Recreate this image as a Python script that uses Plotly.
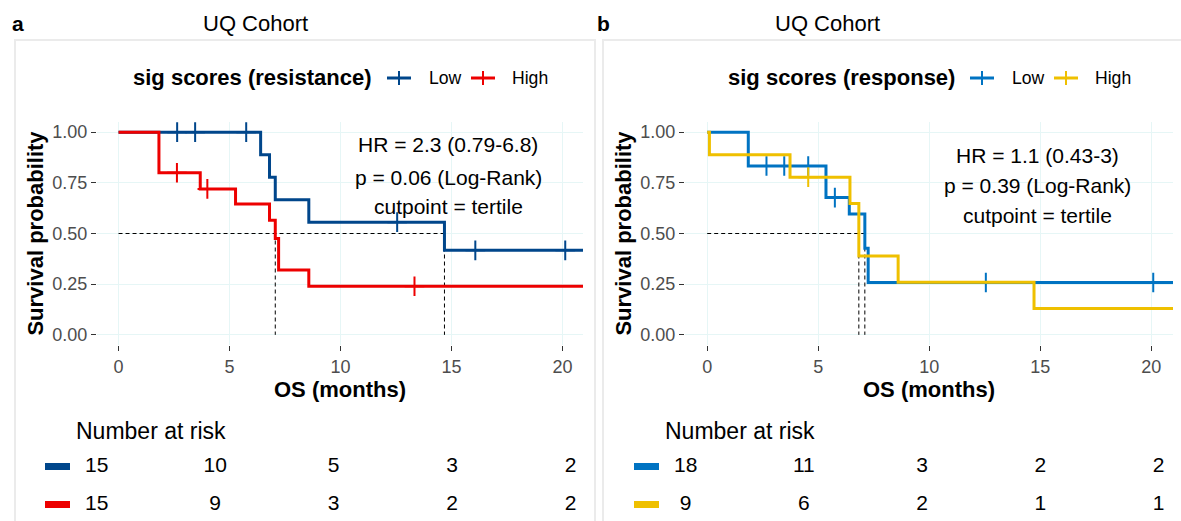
import numpy as np
import plotly.graph_objects as go

W, H = 1181, 521
FONT = "Liberation Sans, Arial, sans-serif"

# ---------------- data ----------------
# Panel a (resistance signature)
a_low_t = [0, 6.40, 6.80, 7.06, 8.57, 14.68, 21.0]
a_low_s = [1.0, 0.889, 0.778, 0.667, 0.556, 0.417, 0.417]
a_low_cens = [2.64, 3.45, 5.75, 12.55, 16.07, 20.12]
a_high_t = [0, 1.82, 3.68, 5.27, 6.80, 7.06, 7.21, 8.57, 21.0]
a_high_s = [1.0, 0.80, 0.72, 0.645, 0.565, 0.475, 0.32, 0.24, 0.24]
a_high_cens = [2.63, 4.00, 13.33]

# Panel b (response signature)
b_low_t = [0, 1.85, 5.35, 6.40, 7.10, 7.25, 21.0]
b_low_s = [1.0, 0.833, 0.677, 0.596, 0.427, 0.258, 0.258]
b_low_cens = [2.67, 3.47, 4.55, 5.75, 12.55, 20.09]
b_high_t = [0, 0.10, 3.73, 6.43, 6.83, 8.60, 14.72, 21.0]
b_high_s = [1.0, 0.889, 0.778, 0.648, 0.389, 0.259, 0.130, 0.130]
b_high_cens = [4.55]

risk_times = [0, 5, 10, 15, 20]
a_risk_low = [15, 10, 5, 3, 2]
a_risk_high = [15, 9, 3, 2, 2]
b_risk_low = [18, 11, 3, 2, 2]
b_risk_high = [9, 6, 2, 1, 1]

x_ticks = [0, 5, 10, 15, 20]
y_ticks = [0, 0.25, 0.5, 0.75, 1.0]
y_ticklabels = ["0.00", "0.25", "0.50", "0.75", "1.00"]

a_stats = ["HR = 2.3 (0.79-6.8)", "p = 0.06 (Log-Rank)", "cutpoint = tertile"]
b_stats = ["HR = 1.1 (0.43-3)", "p = 0.39 (Log-Rank)", "cutpoint = tertile"]

C_A_LOW, C_A_HIGH = "#00468B", "#ED0000"
C_B_LOW, C_B_HIGH = "#0073C2", "#EFC000"


def px(x):
    return x / W


def py(y):
    return 1 - y / H


def step_at(t, s, q):
    t = np.asarray(t); s = np.asarray(s)
    idx = np.searchsorted(t, q, side="right") - 1
    return s[idx]


def median(t, s):
    for ti, si in zip(t, s):
        if si <= 0.5:
            return ti
    return None


fig = go.Figure()


def add_panel(xa, ya, low, high, cols):
    (lt, ls, lc), (ht, hs, hc) = low, high
    meds = [m for m in (median(lt, ls), median(ht, hs)) if m is not None]
    # median lines
    fig.add_trace(go.Scatter(x=[0, max(meds)], y=[0.5, 0.5], mode="lines",
                             line=dict(color="black", width=1, dash="4px,3px"),
                             xaxis=xa, yaxis=ya, showlegend=False, hoverinfo="skip"))
    for m in meds:
        fig.add_trace(go.Scatter(x=[m, m], y=[0.5, 0], mode="lines",
                                 line=dict(color="black", width=1, dash="4px,3px"),
                                 xaxis=xa, yaxis=ya, showlegend=False, hoverinfo="skip"))
    for (t, s, c), col in zip(((lt, ls, lc), (ht, hs, hc)), cols):
        fig.add_trace(go.Scatter(x=t, y=s, mode="lines", line=dict(color=col, width=3, shape="hv"),
                                 xaxis=xa, yaxis=ya, showlegend=False))
        fig.add_trace(go.Scatter(x=c, y=step_at(t, s, c), mode="markers",
                                 marker=dict(symbol="cross-thin", size=14, line=dict(color=col, width=2)),
                                 xaxis=xa, yaxis=ya, showlegend=False))


add_panel("x", "y", (a_low_t, a_low_s, a_low_cens), (a_high_t, a_high_s, a_high_cens), (C_A_LOW, C_A_HIGH))
add_panel("x2", "y2", (b_low_t, b_low_s, b_low_cens), (b_high_t, b_high_s, b_high_cens), (C_B_LOW, C_B_HIGH))

# risk tables as text traces
for xa, ya, rl, rh in (("x3", "y3", a_risk_low, a_risk_high), ("x4", "y4", b_risk_low, b_risk_high)):
    fig.add_trace(go.Scatter(x=risk_times + risk_times, y=[1] * len(rl) + [0] * len(rh),
                             mode="text", text=[str(v) for v in rl + rh],
                             textfont=dict(family=FONT, size=21, color="black"),
                             textposition="middle center",
                             xaxis=xa, yaxis=ya, showlegend=False, hoverinfo="skip"))

GRID = "#E6F6F6"
common_x = dict(tickvals=x_ticks, ticks="outside", ticklen=5, tickcolor="#333333", showline=False,
                gridcolor=GRID, gridwidth=1, zeroline=False,
                tickfont=dict(family=FONT, size=18, color="#4D4D4D"),
                title=dict(text="<b>OS (months)</b>", font=dict(family=FONT, size=22, color="black"), standoff=0))
common_y = dict(tickvals=y_ticks, ticktext=y_ticklabels, ticks="outside", ticklen=5, tickcolor="#333333",
                showline=False, gridcolor=GRID, gridwidth=1, zeroline=False, range=[-0.05, 1.05],
                tickfont=dict(family=FONT, size=18, color="#4D4D4D"),
                title=dict(text="<b>Survival probability</b>", font=dict(family=FONT, size=22, color="black"), standoff=2))

ydom = [py(345), py(122)]
fig.update_layout(
    xaxis=dict(domain=[px(97), px(583)], range=[-0.97, 20.92], anchor="y", **common_x),
    yaxis=dict(domain=ydom, anchor="x", **common_y),
    xaxis2=dict(domain=[px(685), px(1173)], range=[-1.0, 20.98], anchor="y2", **common_x),
    yaxis2=dict(domain=ydom, anchor="x2", **common_y),
    xaxis3=dict(domain=[px(73), px(592)], range=[-1.0, 20.9], anchor="y3", visible=False),
    yaxis3=dict(domain=[py(520), py(450)], range=[-0.408, 1.434], anchor="x3", visible=False),
    xaxis4=dict(domain=[px(662), px(1180)], range=[-1.0, 20.9], anchor="y4", visible=False),
    yaxis4=dict(domain=[py(520), py(450)], range=[-0.408, 1.434], anchor="x4", visible=False),
)

shapes = []
ann = []
# panel frames
for x0, x1 in ((15, 595), (603, 1195)):
    shapes.append(dict(type="rect", xref="paper", yref="paper", x0=px(x0), x1=px(x1), y0=py(560), y1=py(40),
                       line=dict(color="#EBEBEB", width=2), layer="below"))


def legend(title_right, title, keys):
    ann.append(dict(text="<b>%s</b>" % title, x=px(title_right), y=py(78), xref="paper", yref="paper",
                    xanchor="right", yanchor="middle", showarrow=False, font=dict(family=FONT, size=22, color="black")))
    for kx, tx, col, lab in keys:
        shapes.append(dict(type="line", xref="paper", yref="paper", x0=px(kx), x1=px(kx + 24), y0=py(78), y1=py(78),
                           line=dict(color=col, width=3)))
        shapes.append(dict(type="line", xref="paper", yref="paper", x0=px(kx + 12), x1=px(kx + 12), y0=py(71), y1=py(85),
                           line=dict(color=col, width=2)))
        ann.append(dict(text=lab, x=px(tx), y=py(78), xref="paper", yref="paper", xanchor="left", yanchor="middle",
                        showarrow=False, font=dict(family=FONT, size=17.6, color="black")))


legend(373, "sig scores (resistance)", [(387, 427, C_A_LOW, "Low"), (471, 510, C_A_HIGH, "High")])
legend(957, "sig scores (response)", [(970, 1010, C_B_LOW, "Low"), (1054, 1093, C_B_HIGH, "High")])

# panel letters and titles
for lx, tx, letter in ((17.5, 255, "a"), (603, 827, "b")):
    ann.append(dict(text="<b>%s</b>" % letter, x=px(lx), y=py(23), xref="paper", yref="paper", xanchor="center",
                    yanchor="middle", showarrow=False, font=dict(family=FONT, size=21, color="black")))
    ann.append(dict(text="UQ Cohort", x=px(tx), y=py(23), xref="paper", yref="paper", xanchor="center",
                    yanchor="middle", showarrow=False, font=dict(family=FONT, size=22, color="black")))

# stats text
for cx, ys, lines in ((448, (145, 177, 206), a_stats), (1037, (155, 186, 216), b_stats)):
    for yy, line in zip(ys, lines):
        ann.append(dict(text=line, x=px(cx), y=py(yy), xref="paper", yref="paper", xanchor="center",
                        yanchor="middle", showarrow=False, font=dict(family=FONT, size=21, color="black")))

# risk table titles and color keys
for lx, kx, cl, ch in ((74, 45, C_A_LOW, C_A_HIGH), (663, 634, C_B_LOW, C_B_HIGH)):
    ann.append(dict(text="Number at risk", x=px(lx), y=py(431), xref="paper", yref="paper", xanchor="left",
                    yanchor="middle", showarrow=False, font=dict(family=FONT, size=23, color="black")))
    for yy, col in ((466.5, cl), (504.5, ch)):
        shapes.append(dict(type="rect", xref="paper", yref="paper", x0=px(kx), x1=px(kx + 25),
                           y0=py(yy + 3.5), y1=py(yy - 3.5), line=dict(width=0), fillcolor=col))

fig.update_layout(shapes=shapes, annotations=ann, width=W, height=H, autosize=False,
                  margin=dict(l=0, r=0, t=0, b=0), paper_bgcolor="white", plot_bgcolor="white",
                  font=dict(family=FONT), showlegend=False)

fig.write_html("out.html")
